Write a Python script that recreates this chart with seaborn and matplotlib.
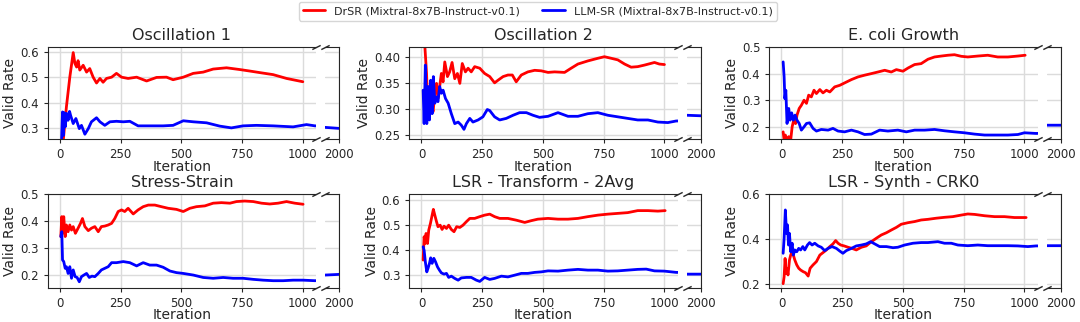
import matplotlib
matplotlib.use("Agg")
import matplotlib.pyplot as plt
from matplotlib.lines import Line2D
import pandas as pd
import seaborn as sns

# ---------------- data ----------------
TITLES = ["Oscillation 1", "Oscillation 2", "E. coli Growth",
          "Stress-Strain", "LSR - Transform - 2Avg", "LSR - Synth - CRK0"]
METHODS = ["DrSR (Mixtral-8x7B-Instruct-v0.1)", "LLM-SR (Mixtral-8x7B-Instruct-v0.1)"]

OSC1_DRSR_X = [14, 27, 41, 55, 62, 69, 75, 82, 96, 110, 123, 137, 151, 165, 178, 192, 213, 233, 254, 281,
               316, 357, 398, 439, 466, 508, 549, 590, 631, 686, 741, 783, 823, 878, 933, 1000]
OSC1_DRSR_Y = [0.25, 0.383, 0.50, 0.597, 0.554, 0.54, 0.565, 0.528, 0.547, 0.52, 0.534, 0.50, 0.477, 0.495,
               0.48, 0.495, 0.50, 0.515, 0.50, 0.495, 0.50, 0.485, 0.499, 0.50, 0.49, 0.50, 0.515, 0.52,
               0.532, 0.537, 0.53, 0.524, 0.518, 0.51, 0.495, 0.482]
OSC1_LLMSR_X = [7, 11, 14, 18, 22, 28, 34, 40, 44, 55, 66, 80, 89, 103, 117, 130, 151, 165, 185, 206, 233,
                261, 288, 322, 370, 425, 466, 508, 549, 604, 658, 706, 754, 809, 878, 960, 1015, 1050,
                1950, 2000]
OSC1_LLMSR_Y = [0.25, 0.363, 0.27, 0.36, 0.304, 0.357, 0.33, 0.365, 0.35, 0.317, 0.337, 0.297, 0.31, 0.275,
                0.297, 0.324, 0.34, 0.324, 0.31, 0.324, 0.326, 0.324, 0.326, 0.308, 0.308, 0.308, 0.31,
                0.328, 0.324, 0.32, 0.307, 0.30, 0.308, 0.31, 0.308, 0.304, 0.313, 0.308, 0.302, 0.298]

OSC2_DRSR_X = [10, 14, 21, 27, 34, 41, 48, 55, 62, 68, 75, 82, 89, 96, 107, 116, 126, 137, 148, 158, 168,
               181, 192, 205, 219, 240, 260, 281, 301, 315, 336, 356, 374, 390, 411, 438, 466, 493, 521,
               548, 589, 616, 644, 685, 726, 753, 781, 808, 836, 863, 890, 918, 959, 979, 1000]
OSC2_DRSR_Y = [0.43, 0.42, 0.368, 0.291, 0.343, 0.304, 0.295, 0.33, 0.349, 0.32, 0.343, 0.368, 0.352, 0.39,
               0.362, 0.371, 0.389, 0.358, 0.368, 0.349, 0.387, 0.371, 0.378, 0.371, 0.381, 0.378, 0.368,
               0.362, 0.35, 0.355, 0.362, 0.365, 0.365, 0.352, 0.365, 0.371, 0.374, 0.373, 0.37, 0.371,
               0.37, 0.378, 0.386, 0.392, 0.397, 0.40, 0.397, 0.394, 0.386, 0.38, 0.381, 0.384, 0.389,
               0.386, 0.385]
OSC2_LLMSR_X = [7, 11, 16, 22, 27, 33, 38, 44, 49, 55, 62, 68, 75, 82, 89, 99, 110, 123, 137, 151, 164,
                175, 185, 199, 212, 233, 253, 271, 281, 301, 322, 349, 377, 404, 432, 459, 486, 521, 562,
                603, 644, 685, 726, 767, 808, 849, 890, 932, 973, 1014, 1048, 1950, 2000]
OSC2_LLMSR_Y = [0.336, 0.272, 0.384, 0.272, 0.343, 0.279, 0.355, 0.291, 0.362, 0.311, 0.323, 0.314, 0.343,
                0.33, 0.336, 0.32, 0.311, 0.291, 0.272, 0.275, 0.269, 0.261, 0.272, 0.282, 0.275, 0.279,
                0.285, 0.299, 0.297, 0.285, 0.279, 0.282, 0.288, 0.293, 0.293, 0.288, 0.284, 0.286, 0.293,
                0.286, 0.286, 0.291, 0.293, 0.288, 0.285, 0.282, 0.279, 0.279, 0.275, 0.274, 0.277, 0.288,
                0.287]

ECOLI_DRSR_X = [7, 11, 16, 23, 30, 38, 44, 52, 58, 64, 73, 82, 93, 103, 112, 123, 134, 144, 158, 171, 185,
                199, 219, 240, 260, 288, 315, 342, 370, 397, 425, 452, 473, 500, 521, 548, 575, 603, 630,
                658, 685, 712, 740, 767, 808, 849, 890, 932, 973, 1003]
ECOLI_DRSR_Y = [0.181, 0.15, 0.169, 0.15, 0.163, 0.15, 0.20, 0.231, 0.212, 0.244, 0.269, 0.281, 0.30, 0.288,
                0.319, 0.3125, 0.3375, 0.325, 0.34, 0.3275, 0.3375, 0.331, 0.35, 0.356, 0.365, 0.3775,
                0.3875, 0.394, 0.40, 0.406, 0.4125, 0.406, 0.415, 0.409, 0.421, 0.434, 0.4375, 0.454,
                0.4625, 0.466, 0.469, 0.471, 0.465, 0.4625, 0.466, 0.469, 0.4625, 0.4625, 0.466, 0.469]
ECOLI_LLMSR_X = [7, 11, 14, 18, 23, 30, 36, 42, 49, 56, 64, 73, 82, 93, 103, 116, 130, 144, 164, 192, 212,
                 233, 260, 288, 315, 342, 370, 404, 438, 479, 514, 548, 589, 630, 671, 712, 753, 795, 836,
                 877, 932, 973, 1000, 1048, 1950, 2000]
ECOLI_LLMSR_Y = [0.444, 0.3875, 0.306, 0.3375, 0.2125, 0.269, 0.225, 0.2525, 0.225, 0.244, 0.225, 0.2125,
                 0.1875, 0.20, 0.2125, 0.215, 0.194, 0.184, 0.19, 0.1875, 0.194, 0.184, 0.181, 0.1875,
                 0.181, 0.171, 0.1725, 0.1875, 0.184, 0.1875, 0.181, 0.1875, 0.1875, 0.19, 0.185, 0.181,
                 0.1775, 0.1725, 0.169, 0.169, 0.169, 0.171, 0.1775, 0.175, 0.206, 0.206]

STRESS_DRSR_X = [4, 8, 12, 16, 22, 27, 34, 41, 48, 55, 64, 75, 85, 93, 103, 117, 130, 144, 158, 171, 185,
                 199, 213, 226, 240, 254, 267, 281, 302, 322, 343, 364, 391, 418, 446, 480, 508, 535, 562,
                 597, 631, 665, 700, 727, 761, 796, 830, 864, 898, 933, 967, 1001]
STRESS_DRSR_Y = [0.343, 0.417, 0.355, 0.417, 0.343, 0.386, 0.361, 0.386, 0.367, 0.38, 0.355, 0.374, 0.392,
                 0.41, 0.38, 0.365, 0.374, 0.38, 0.361, 0.38, 0.382, 0.386, 0.392, 0.41, 0.436, 0.442,
                 0.436, 0.448, 0.427, 0.442, 0.454, 0.46, 0.46, 0.454, 0.448, 0.444, 0.436, 0.448, 0.454,
                 0.457, 0.467, 0.469, 0.467, 0.473, 0.475, 0.473, 0.467, 0.464, 0.467, 0.473, 0.467, 0.463]
STRESS_LLMSR_X = [4, 8, 11, 16, 22, 27, 34, 41, 48, 55, 63, 71, 80, 89, 99, 110, 121, 132, 144, 158, 171,
                  185, 199, 213, 233, 261, 288, 316, 343, 370, 398, 425, 453, 480, 508, 549, 590, 631, 672,
                  713, 754, 796, 837, 878, 919, 960, 1001, 1049, 1950, 2000]
STRESS_LLMSR_Y = [0.343, 0.361, 0.256, 0.25, 0.225, 0.231, 0.206, 0.231, 0.188, 0.219, 0.194, 0.191, 0.175,
                  0.194, 0.20, 0.206, 0.191, 0.196, 0.194, 0.206, 0.219, 0.225, 0.231, 0.246, 0.246, 0.25,
                  0.246, 0.234, 0.246, 0.237, 0.237, 0.229, 0.215, 0.209, 0.206, 0.20, 0.191, 0.188, 0.191,
                  0.188, 0.188, 0.184, 0.181, 0.179, 0.179, 0.181, 0.181, 0.179, 0.20, 0.2025]

LSR2_DRSR_X = [7, 11, 15, 19, 25, 30, 37, 44, 49, 55, 62, 68, 77, 85, 93, 103, 112, 123, 134, 145, 158, 171,
               185, 199, 219, 240, 260, 281, 301, 322, 356, 390, 425, 452, 479, 521, 562, 603, 644, 685,
               726, 767, 808, 849, 890, 932, 973, 1003]
LSR2_DRSR_Y = [0.361, 0.454, 0.427, 0.467, 0.427, 0.48, 0.507, 0.54, 0.563, 0.54, 0.514, 0.494, 0.50, 0.483,
               0.496, 0.487, 0.50, 0.483, 0.474, 0.494, 0.491, 0.50, 0.514, 0.527, 0.527, 0.534, 0.54,
               0.544, 0.534, 0.527, 0.527, 0.52, 0.511, 0.518, 0.524, 0.527, 0.524, 0.524, 0.527, 0.534,
               0.54, 0.544, 0.547, 0.55, 0.558, 0.558, 0.556, 0.558]
LSR2_LLMSR_X = [7, 11, 16, 22, 27, 33, 38, 44, 51, 58, 66, 74, 82, 93, 103, 112, 123, 137, 151, 164, 185,
                205, 226, 240, 260, 281, 301, 329, 356, 384, 411, 438, 466, 493, 521, 562, 603, 644, 685,
                726, 767, 808, 849, 890, 925, 959, 1000, 1048, 1950, 2000]
LSR2_LLMSR_Y = [0.414, 0.40, 0.354, 0.314, 0.328, 0.348, 0.37, 0.348, 0.368, 0.354, 0.334, 0.321, 0.31,
                0.305, 0.308, 0.292, 0.297, 0.288, 0.281, 0.29, 0.292, 0.292, 0.281, 0.276, 0.292, 0.284,
                0.288, 0.297, 0.294, 0.301, 0.308, 0.308, 0.312, 0.314, 0.318, 0.317, 0.321, 0.324, 0.321,
                0.321, 0.317, 0.318, 0.321, 0.324, 0.325, 0.318, 0.317, 0.312, 0.305, 0.305]

CRK0_DRSR_X = [7, 11, 15, 19, 23, 27, 33, 38, 44, 49, 55, 63, 71, 79, 89, 99, 110, 118, 130, 144, 158, 171,
               185, 199, 212, 223, 233, 244, 258, 274, 290, 308, 329, 349, 370, 390, 411, 432, 452, 473,
               493, 521, 548, 575, 603, 637, 671, 705, 740, 767, 795, 836, 877, 918, 959, 1007]
CRK0_DRSR_Y = [0.20, 0.231, 0.313, 0.246, 0.269, 0.239, 0.306, 0.328, 0.343, 0.328, 0.306, 0.284, 0.269,
               0.261, 0.254, 0.249, 0.234, 0.269, 0.284, 0.299, 0.328, 0.339, 0.351, 0.366, 0.378, 0.393,
               0.381, 0.373, 0.369, 0.363, 0.358, 0.351, 0.363, 0.369, 0.388, 0.403, 0.418, 0.428, 0.44,
               0.452, 0.466, 0.473, 0.478, 0.485, 0.488, 0.493, 0.497, 0.50, 0.507, 0.512, 0.51, 0.504,
               0.50, 0.50, 0.496, 0.496]
CRK0_LLMSR_X = [7, 11, 16, 21, 25, 29, 33, 38, 44, 49, 55, 63, 71, 79, 88, 96, 107, 116, 126, 137, 151, 164,
                178, 192, 208, 226, 240, 253, 267, 288, 308, 329, 349, 367, 384, 404, 432, 459, 479, 507,
                541, 575, 603, 644, 671, 699, 726, 767, 808, 849, 890, 932, 973, 1014, 1048, 1950, 2000]
CRK0_LLMSR_Y = [0.336, 0.403, 0.53, 0.425, 0.463, 0.373, 0.425, 0.343, 0.381, 0.328, 0.351, 0.343, 0.358,
                0.351, 0.366, 0.351, 0.373, 0.384, 0.373, 0.381, 0.369, 0.363, 0.348, 0.358, 0.366, 0.358,
                0.346, 0.336, 0.348, 0.358, 0.369, 0.373, 0.378, 0.388, 0.378, 0.366, 0.366, 0.361, 0.363,
                0.373, 0.381, 0.384, 0.384, 0.388, 0.381, 0.381, 0.373, 0.37, 0.373, 0.37, 0.37, 0.37,
                0.369, 0.366, 0.369, 0.37, 0.37]

YLIMS = [(0.255, 0.619), (0.242, 0.4186), (0.153, 0.5), (0.153, 0.5), (0.251, 0.623), (0.182, 0.6)]
YTICKS = [[0.3, 0.4, 0.5, 0.6], [0.25, 0.30, 0.35, 0.40], [0.2, 0.3, 0.4, 0.5],
          [0.2, 0.3, 0.4, 0.5], [0.3, 0.4, 0.5, 0.6], [0.2, 0.4, 0.6]]
YTICKLABELS = [["0.3", "0.4", "0.5", "0.6"], ["0.25", "0.30", "0.35", "0.40"], ["0.2", "0.3", "0.4", "0.5"],
               ["0.2", "0.3", "0.4", "0.5"], ["0.3", "0.4", "0.5", "0.6"], ["0.2", "0.4", "0.6"]]
MAIN_XTICKS = [0, 250, 500, 750, 1000]
TAIL_XTICKS = [2000]

SERIES = [
    (OSC1_DRSR_X, OSC1_DRSR_Y, OSC1_LLMSR_X, OSC1_LLMSR_Y),
    (OSC2_DRSR_X, OSC2_DRSR_Y, OSC2_LLMSR_X, OSC2_LLMSR_Y),
    (ECOLI_DRSR_X, ECOLI_DRSR_Y, ECOLI_LLMSR_X, ECOLI_LLMSR_Y),
    (STRESS_DRSR_X, STRESS_DRSR_Y, STRESS_LLMSR_X, STRESS_LLMSR_Y),
    (LSR2_DRSR_X, LSR2_DRSR_Y, LSR2_LLMSR_X, LSR2_LLMSR_Y),
    (CRK0_DRSR_X, CRK0_DRSR_Y, CRK0_LLMSR_X, CRK0_LLMSR_Y),
]
PALETTE = {METHODS[0]: "red", METHODS[1]: "blue"}

# ---------------- style ----------------
sns.set_style("ticks")
plt.rcParams["font.family"] = ["DejaVu Sans"]
plt.rcParams["xtick.labelsize"] = 8.5
plt.rcParams["ytick.labelsize"] = 8.5
plt.rcParams["xtick.major.size"] = 3
plt.rcParams["ytick.major.size"] = 3

W, H = 1080, 322
fig = plt.figure(figsize=(W / 100, H / 100), dpi=100)

COL_LEFT_PX = [47.7, 409.3, 769.3]
ROW_BOTTOM = [1 - 139.3 / H, 1 - 287.7 / H]
ROW_HEIGHT = [92.3 / H, 93.4 / H]
MAIN_W_PX = 268.5
TAIL_OFF_PX = 277.5
TAIL_W_PX = 14
LW = 2.0

for i, title in enumerate(TITLES):
    r, c = divmod(i, 3)
    rx, ry, bx, by = SERIES[i]
    df = pd.concat([
        pd.DataFrame({"Iteration": rx, "Valid Rate": ry, "Method": METHODS[0]}),
        pd.DataFrame({"Iteration": bx, "Valid Rate": by, "Method": METHODS[1]}),
    ], ignore_index=True)

    left = COL_LEFT_PX[c]
    ax = fig.add_axes([left / W, ROW_BOTTOM[r], MAIN_W_PX / W, ROW_HEIGHT[r]])
    axt = fig.add_axes([(left + TAIL_OFF_PX) / W, ROW_BOTTOM[r], TAIL_W_PX / W, ROW_HEIGHT[r]], sharey=ax)

    for a in (ax, axt):
        sns.lineplot(data=df, x="Iteration", y="Valid Rate", hue="Method", palette=PALETTE,
                     ax=a, legend=False, linewidth=LW, estimator=None, sort=True)
        a.grid(True, color=".86", linewidth=1.0)
        a.set_axisbelow(True)

    ax.set_xlim(-50, 1055)
    axt.set_xlim(1950, 2000)
    ax.set_ylim(*YLIMS[i])
    ax.set_xticks(MAIN_XTICKS)
    axt.set_xticks(TAIL_XTICKS)
    ax.set_yticks(YTICKS[i])
    ax.set_yticklabels(YTICKLABELS[i])

    ax.spines["right"].set_visible(False)
    axt.spines["left"].set_visible(False)
    axt.tick_params(left=False, labelleft=False)

    ax.set_title(title, fontsize=11.5, pad=5)
    ax.set_xlabel("Iteration", fontsize=10, labelpad=-1)
    ax.set_ylabel("Valid Rate", fontsize=10, labelpad=2)
    axt.set_xlabel("")
    axt.set_ylabel("")

    d = 0.5
    kw = dict(marker=[(-1, -d), (1, d)], markersize=6, linestyle="none",
              color=".15", mec=".15", mew=1, clip_on=False)
    ax.plot([1, 1], [0, 1], transform=ax.transAxes, **kw)
    axt.plot([0, 0], [0, 1], transform=axt.transAxes, **kw)

handles = [Line2D([0], [0], color=PALETTE[m], lw=LW) for m in METHODS]
fig.legend(handles, METHODS, loc="upper center", bbox_to_anchor=(0.498, 1.0), ncol=2,
           fontsize=8, frameon=True, borderaxespad=0.15)

fig.savefig("out.png", dpi=100)
